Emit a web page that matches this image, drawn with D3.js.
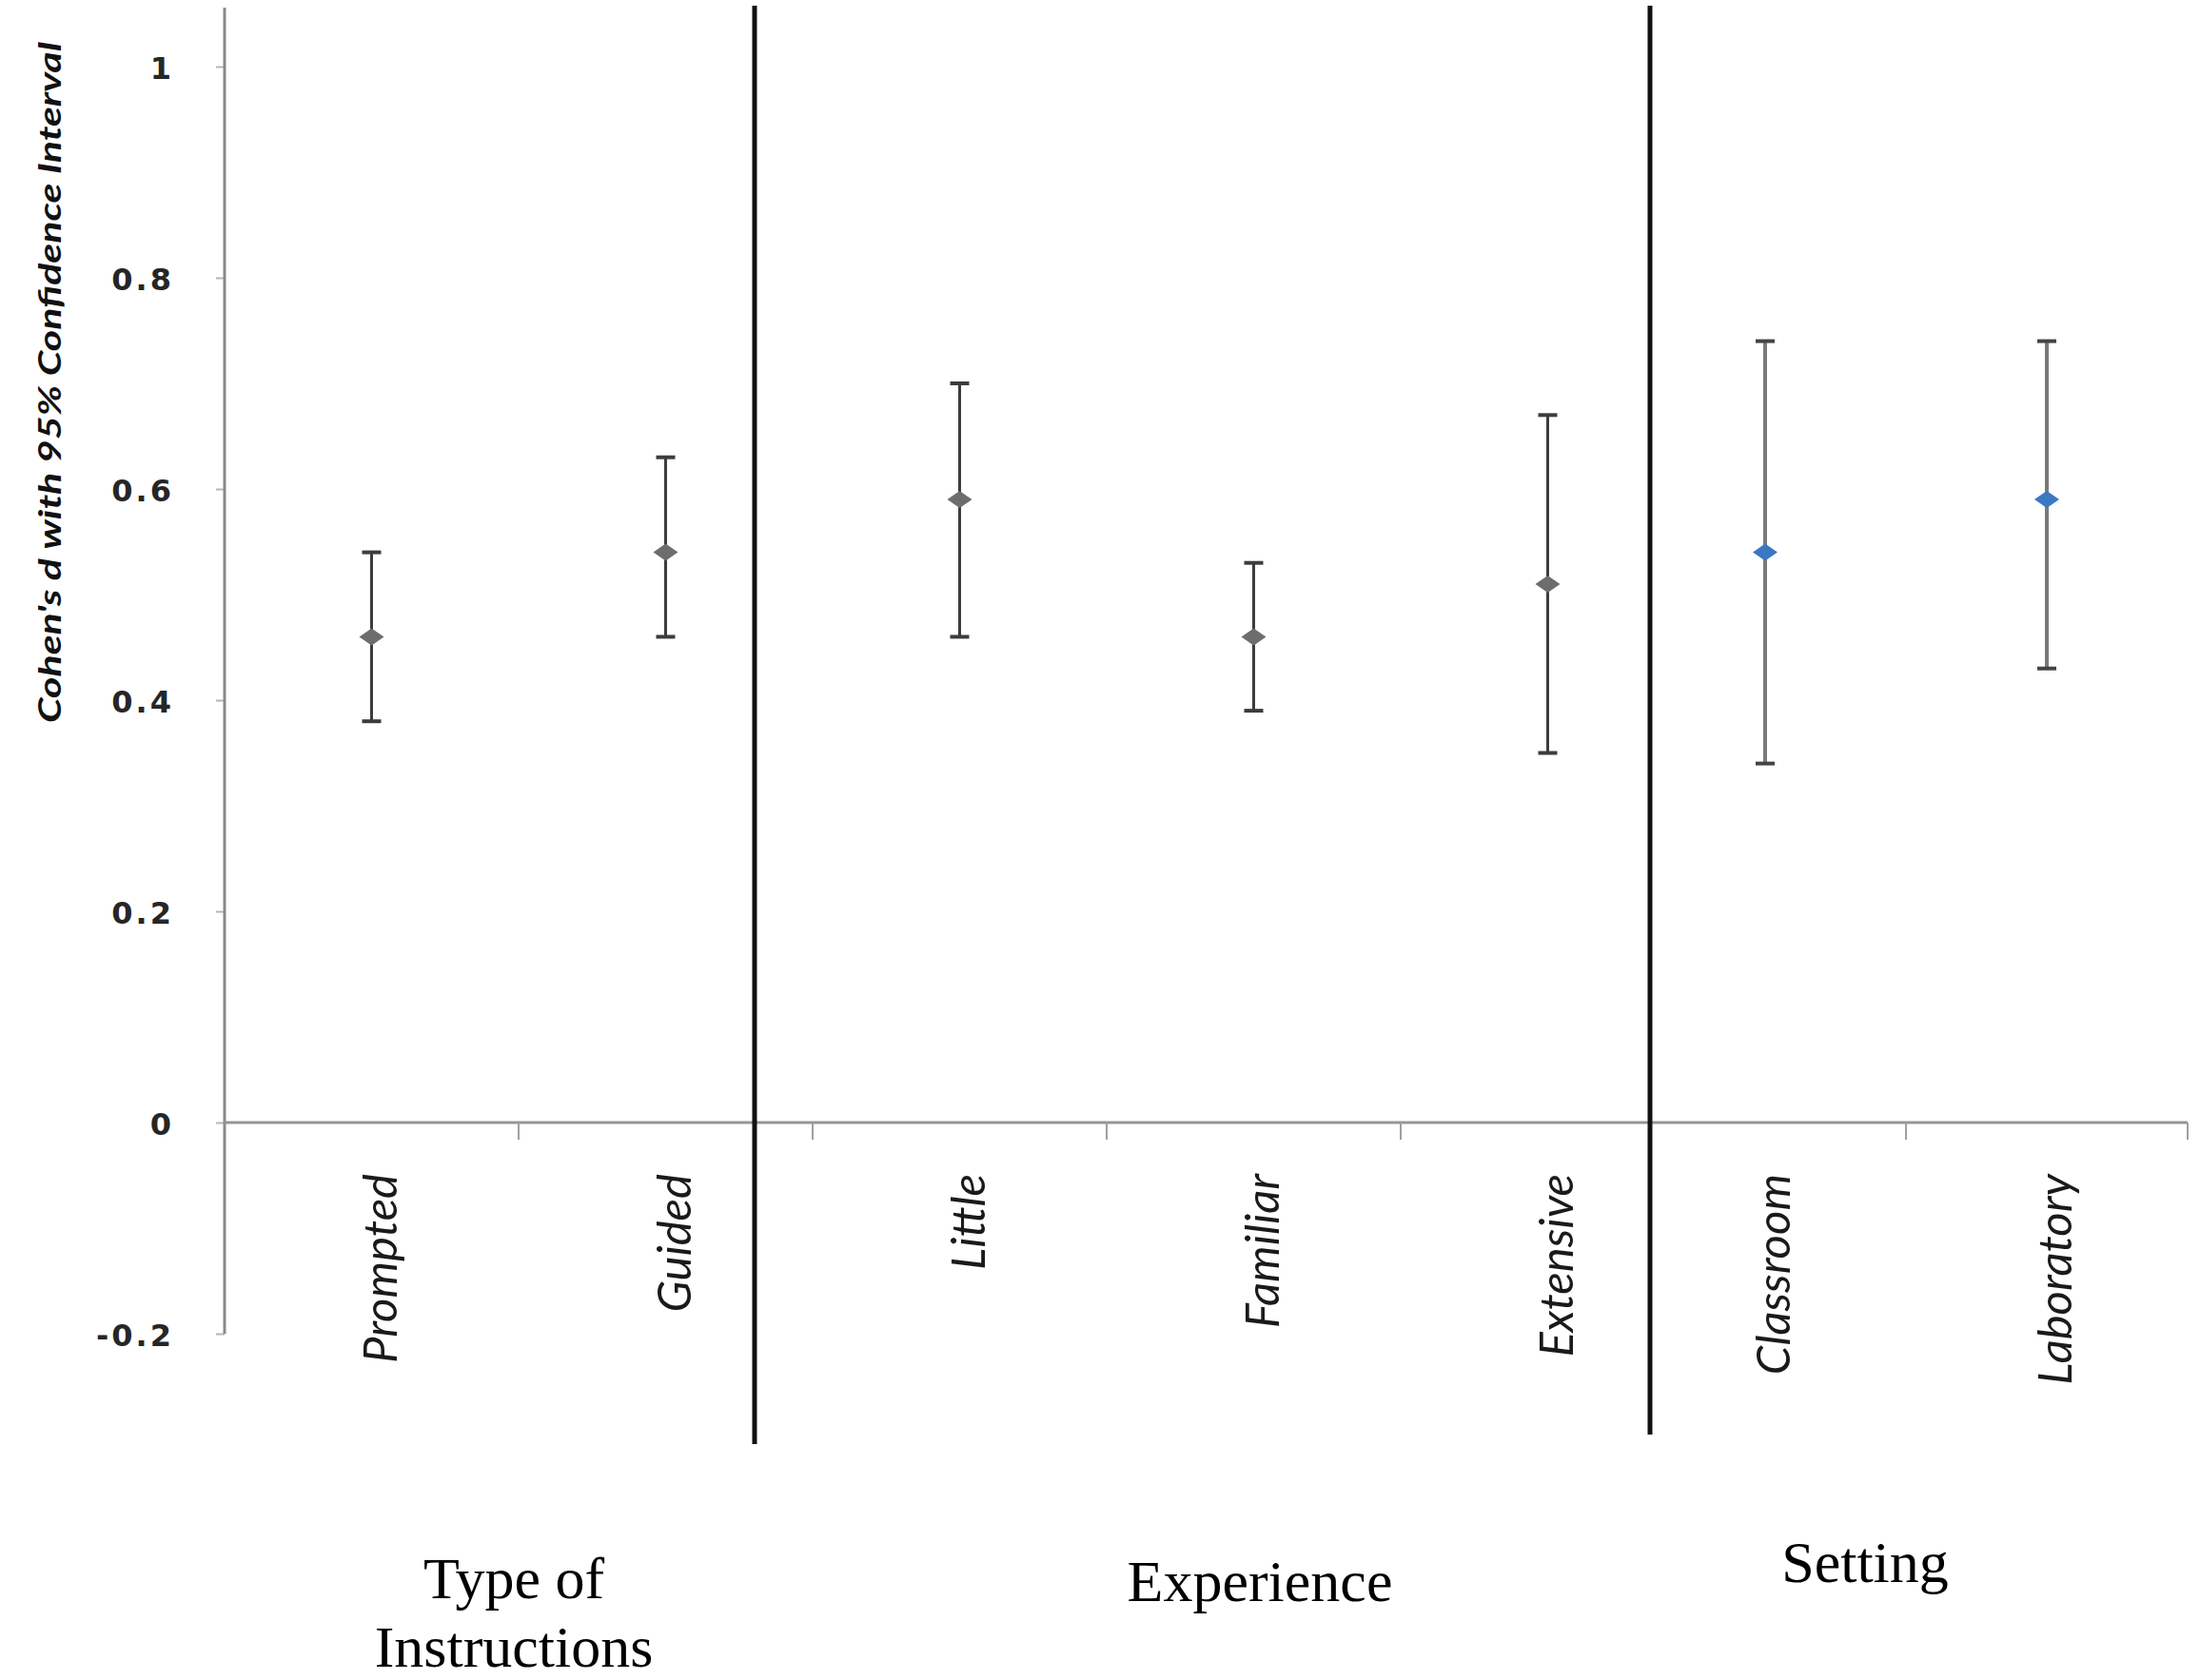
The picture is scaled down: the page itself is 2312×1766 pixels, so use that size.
<!DOCTYPE html>
<html>
<head>
<meta charset="utf-8">
<script src="https://cdn.jsdelivr.net/npm/d3@7"></script>
<style>
  html, body { margin: 0; padding: 0; background: #ffffff; }
  svg { display: block; }
</style>
</head>
<body>
<script>
// ---- data ----
const categoriesA = ["Prompted", "Guided", "Little", "Familiar", "Extensive"];
const categoriesB = ["Classroom", "Laboratory"];
const estimateA = [0.46, 0.54, 0.59, 0.46, 0.51];
const lowerA    = [0.38, 0.46, 0.46, 0.39, 0.35];
const upperA    = [0.54, 0.63, 0.70, 0.53, 0.67];
const estimateB = [0.54, 0.59];
const lowerB    = [0.34, 0.43];
const upperB    = [0.74, 0.74];
const yTicks = [-0.2, 0, 0.2, 0.4, 0.6, 0.8, 1];
const yTickLabels = ["-0.2", "0", "0.2", "0.4", "0.6", "0.8", "1"];
const groupLabels = [
  { lines: ["Type of", "Instructions"] },
  { lines: ["Experience"] },
  { lines: ["Setting"] }
];
const yTitle = "Cohen's d with 95% Confidence Interval";

// ---- layout ----
const W = 2312, H = 1766;
const svg = d3.select("body").append("svg").attr("width", W).attr("height", H);
svg.append("rect").attr("width", W).attr("height", H).attr("fill", "#fff");

const y = d3.scaleLinear().domain([-0.2, 1]).range([1402, 70]);
const xA = d3.scaleBand().domain(categoriesA).range([236, 1781]);
const xB = d3.scaleBand().domain(categoriesB).range([1707, 2299]);
const axisX = 236, axisRight = 2299;

// y axis
const yAxis = d3.axisLeft(y).tickValues(yTicks)
  .tickFormat((d, i) => yTickLabels[i]).tickSize(9).tickPadding(44);
const gy = svg.append("g").attr("transform", `translate(${axisX},0)`).call(yAxis);
gy.select(".domain").remove();
gy.selectAll(".tick line").attr("stroke", "#b5b5b5").attr("stroke-width", 2);
gy.selectAll(".tick text")
  .attr("font-family", "DejaVu Sans, Verdana, sans-serif")
  .attr("font-weight", "bold")
  .attr("font-size", 32).attr("letter-spacing", 3)
  .attr("fill", "#262626").attr("dy", "0.38em");
svg.append("line").attr("x1", axisX).attr("x2", axisX)
  .attr("y1", 8).attr("y2", y(-0.2))
  .attr("stroke", "#8a8a8a").attr("stroke-width", 3);

// x axis line at 0
svg.append("line").attr("x1", axisX).attr("x2", axisRight)
  .attr("y1", y(0)).attr("y2", y(0))
  .attr("stroke", "#959595").attr("stroke-width", 3);
// x ticks at band boundaries
const tickXs = categoriesA.slice(1).map(c => xA(c))
  .concat(categoriesB.slice(1).map(c => xB(c)), [xB.range()[1]]);
svg.selectAll("line.xtick").data(tickXs).enter().append("line")
  .attr("class", "xtick")
  .attr("x1", d => d).attr("x2", d => d)
  .attr("y1", y(0)).attr("y2", y(0) + 18)
  .attr("stroke", "#a0a0a0").attr("stroke-width", 2);

// separators
const sepLines = [{ x: 793, y2: 1518 }, { x: 1734, y2: 1508 }];
svg.selectAll("line.sep").data(sepLines).enter().append("line")
  .attr("x1", d => d.x).attr("x2", d => d.x)
  .attr("y1", 6).attr("y2", d => d.y2)
  .attr("stroke", "#111").attr("stroke-width", 5);

// category labels
function catLabels(scale, cats) {
  svg.selectAll(null).data(cats).enter().append("text")
    .attr("transform", d => `translate(${scale(d) + scale.bandwidth() / 2 + 26},1234) rotate(-90)`)
    .attr("text-anchor", "end")
    .attr("font-family", "Lato, 'Open Sans', sans-serif")
    .attr("font-style", "italic")
    .attr("font-size", 49)
    .attr("fill", "#1a1a1a")
    .text(d => d);
}
catLabels(xA, categoriesA);
catLabels(xB, categoriesB);

// error bars + markers
function drawSeries(scale, cats, est, lo, hi, lineCol, lineW, capCol, markerCol) {
  const data = cats.map((c, i) => ({ c, est: est[i], lo: lo[i], hi: hi[i] }));
  const g = svg.append("g");
  const cx = d => scale(d.c) + scale.bandwidth() / 2;
  g.selectAll("line.bar").data(data).enter().append("line")
    .attr("x1", cx).attr("x2", cx)
    .attr("y1", d => y(d.lo)).attr("y2", d => y(d.hi))
    .attr("stroke", lineCol).attr("stroke-width", lineW);
  ["lo", "hi"].forEach(k => {
    g.selectAll(null).data(data).enter().append("line")
      .attr("x1", d => cx(d) - 10).attr("x2", d => cx(d) + 10)
      .attr("y1", d => y(d[k])).attr("y2", d => y(d[k]))
      .attr("stroke", capCol).attr("stroke-width", 4);
  });
  g.selectAll("path.mk").data(data).enter().append("path")
    .attr("d", d => {
      const x0 = cx(d), y0 = y(d.est);
      return `M${x0 - 13},${y0} L${x0},${y0 - 9} L${x0 + 13},${y0} L${x0},${y0 + 9} Z`;
    })
    .attr("fill", markerCol);
}
drawSeries(xA, categoriesA, estimateA, lowerA, upperA, "#3c3c3c", 3, "#3c3c3c", "#6d6d6d");
drawSeries(xB, categoriesB, estimateB, lowerB, upperB, "#7a7a7a", 4, "#444", "#3b78c4");

// y title
svg.append("text")
  .attr("transform", `translate(64,402) rotate(-90)`)
  .attr("text-anchor", "middle")
  .attr("font-family", "Lato, sans-serif")
  .attr("font-style", "italic").attr("font-weight", "bold")
  .attr("font-size", 32)
  .attr("textLength", 716).attr("lengthAdjust", "spacingAndGlyphs")
  .attr("fill", "#111")
  .text(yTitle);

// group labels
const groupPos = [
  { x: 540, ys: [1680, 1752] },
  { x: 1324, ys: [1683] },
  { x: 1960, ys: [1663] }
];
groupLabels.forEach((gl, i) => {
  gl.lines.forEach((ln, j) => {
    svg.append("text")
      .attr("x", groupPos[i].x).attr("y", groupPos[i].ys[j])
      .attr("text-anchor", "middle")
      .attr("font-family", "'Liberation Serif', 'DejaVu Serif', serif")
      .attr("font-size", 62)
      .attr("fill", "#000")
      .text(ln);
  });
});
</script>
</body>
</html>
